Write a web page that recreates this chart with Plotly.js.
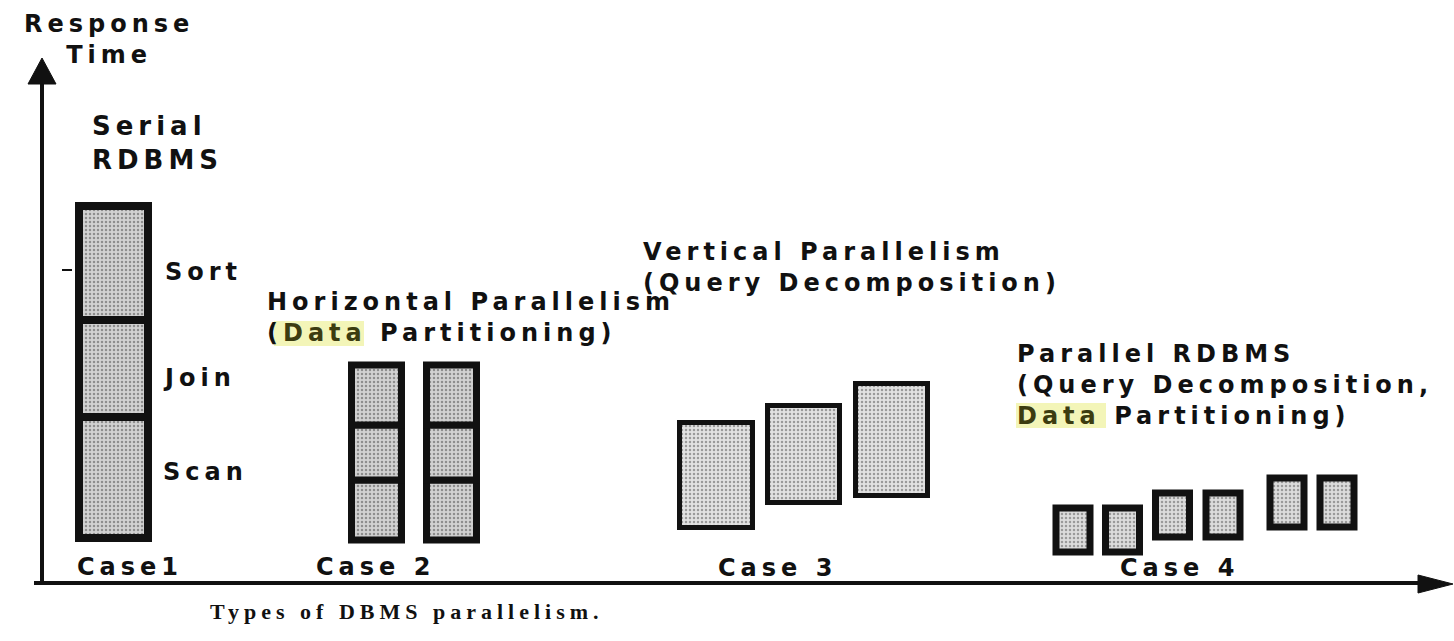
<!DOCTYPE html>
<html>
<head>
<meta charset="utf-8">
<script src="https://cdn.plot.ly/plotly-3.0.1.min.js"></script>
<style>
  html, body { margin: 0; padding: 0; background: #ffffff; }
  #chart { width: 1454px; height: 641px; }
  .annotation-text { letter-spacing: 5px; }
</style>
</head>
<body>
<div id="chart"></div>
<script>
// ---------------- data (response time units, 0 = time axis) ----------------
const caseLabels = ['Case1', 'Case 2', 'Case 3', 'Case 4'];
const case1Stages = ['Scan', 'Join', 'Sort'];
const case1Start = [45, 166, 263];
const case1End = [166, 263, 377];
// Case 2: two data partitions, each running Scan / Join / Sort
const case2Start = [43, 103, 158, 43, 103, 158];
const case2End = [103, 158, 218, 103, 158, 218];
// Case 3: three decomposed query operators
const case3Start = [55.5, 80.5, 87.5];
const case3End = [160.5, 177.5, 199.5];
// Case 4: decomposed operators on partitioned data
const case4Start = [31, 31, 46, 46, 56, 56];
const case4End = [75, 75, 90, 90, 105, 105];

// ---------------- layout constants (positions / sizes) ----------------
const case1X = [113.5, 113.5, 113.5];
const case2X = [376.5, 376.5, 376.5, 451.5, 451.5, 451.5];
const case3X = [716, 803.5, 891.5];
const case4X = [1073, 1122.5, 1172.5, 1223, 1287, 1337];
const case1W = 69, case2W = 50, case3W = [73, 72, 72], case4W = 34;

const diff = (a, b) => a.map((v, i) => v - b[i]);

function boxTrace(x, start, end, width, lw, bg, fg) {
  return {
    type: 'bar',
    x: x,
    y: diff(end, start),
    base: start,
    width: Array.isArray(width) ? width : x.map(() => width),
    marker: {
      color: bg,
      line: { color: '#111111', width: lw },
      pattern: { shape: '.', bgcolor: bg, fgcolor: fg, size: 4, solidity: 0.3 }
    },
    hoverinfo: 'skip',
    showlegend: false
  };
}

const traces = [
  boxTrace(case1X, case1Start, case1End, case1W, 8, '#d2d2d2', '#8e8e8e'),
  boxTrace(case2X, case2Start, case2End, case2W, 7, '#d2d2d2', '#8e8e8e'),
  boxTrace(case3X, case3Start, case3End, case3W, 5, '#e2e2e2', '#9a9a9a'),
  boxTrace(case4X, case4Start, case4End, case4W, 7, '#dcdcdc', '#9a9a9a')
];

const black = '#111111';
const sans = { family: 'DejaVu Sans, Arial, sans-serif', size: 24, color: black, weight: 'bold' };
const dataWord = '<span style="color:#3c3c10">Data</span>';

function ann(text, x, y, xanchor, font, align) {
  return { text: text, x: x, y: y, xref: 'x', yref: 'y', xanchor: xanchor, yanchor: 'middle',
           showarrow: false, font: Object.assign({}, sans, font || {}), align: align || 'left' };
}

const annotations = [
  ann('Response<br>Time', 109, 544, 'center', { size: 24 }, 'center'),
  ann('Serial<br>RDBMS', 90, 440, 'left', { size: 26 }),
  ann(case1Stages[2], 163, 311, 'left'),
  ann(case1Stages[1], 161, 205, 'left'),
  ann(case1Stages[0], 161, 111, 'left'),
  ann(caseLabels[0], 130, 16, 'center'),
  ann(caseLabels[1], 375, 16, 'center'),
  ann(caseLabels[2], 777, 15, 'center'),
  ann(caseLabels[3], 1179, 15, 'center'),
  ann('Horizontal Parallelism<br>(' + dataWord + ' Partitioning)', 265, 266, 'left'),
  ann('Vertical Parallelism<br>(Query Decomposition)', 641, 316, 'left'),
  ann('Parallel RDBMS<br>(Query Decomposition,<br>' + dataWord + ' Partitioning)', 1015, 198, 'left'),
  ann('Types of DBMS parallelism.', 208, -28, 'left',
      { family: 'Liberation Serif, Times New Roman, serif', size: 22, weight: 'bold' })
];

const shapes = [
  // highlight behind "Data"
  { type: 'rect', xref: 'x', yref: 'y', x0: 274, x1: 364, y0: 237, y1: 262,
    fillcolor: '#f3f5b8', line: { width: 0 }, layer: 'below' },
  { type: 'rect', xref: 'x', yref: 'y', x0: 1016, x1: 1106, y0: 155, y1: 180,
    fillcolor: '#f3f5b8', line: { width: 0 }, layer: 'below' },
  // response-time axis
  { type: 'line', xref: 'x', yref: 'y', x0: 42, x1: 42, y0: 0, y1: 505,
    line: { color: black, width: 4 } },
  { type: 'path', xref: 'x', yref: 'y', path: 'M 42 525 L 28 499 L 56 499 Z',
    fillcolor: black, line: { color: black, width: 1 } },
  // small tick on the axis
  { type: 'line', xref: 'x', yref: 'y', x0: 62, x1: 72, y0: 313, y1: 313,
    line: { color: black, width: 2 } },
  // case axis
  { type: 'line', xref: 'x', yref: 'y', x0: 34, x1: 1425, y0: 0, y1: 0,
    line: { color: black, width: 4 } },
  { type: 'path', xref: 'x', yref: 'y', path: 'M 1453 -1 L 1418 8 L 1418 -10 Z',
    fillcolor: black, line: { color: black, width: 1 } }
];

const layout = {
  width: 1454, height: 641,
  margin: { l: 0, r: 0, t: 0, b: 0, pad: 0 },
  paper_bgcolor: '#ffffff', plot_bgcolor: '#ffffff',
  barmode: 'overlay',
  xaxis: { range: [0, 1454], visible: false, fixedrange: true },
  yaxis: { range: [-58, 583], visible: false, fixedrange: true },
  annotations: annotations,
  shapes: shapes,
  showlegend: false
};

Plotly.newPlot('chart', traces, layout, { staticPlot: true, displayModeBar: false });
</script>
</body>
</html>
